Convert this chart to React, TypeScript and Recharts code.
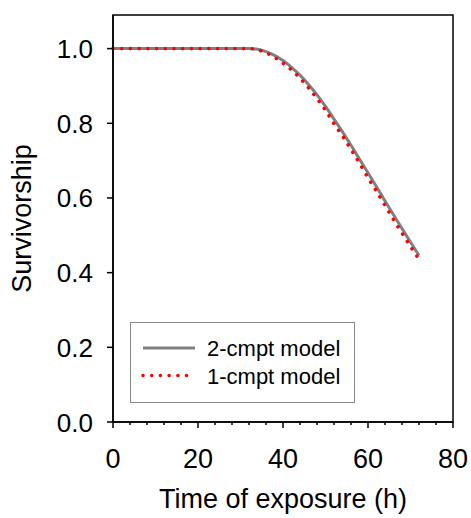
import React from 'react';
import { LineChart, Line, XAxis, YAxis, ReferenceArea, Legend } from 'recharts';

const hours = [0, 10, 20, 30, 32, 34, 36, 38, 40, 42, 44, 46, 48, 50, 52, 54, 56, 58, 60, 62, 64, 66, 68, 70, 72];
const twoCmpt = [1, 1, 1, 1, 1, 0.998, 0.992, 0.982, 0.968, 0.95, 0.929, 0.904, 0.876, 0.845, 0.811, 0.777, 0.741, 0.704, 0.667, 0.63, 0.592, 0.555, 0.518, 0.482, 0.446];
const oneCmpt = [1, 1, 1, 1, 1, 0.997, 0.989, 0.977, 0.961, 0.943, 0.921, 0.895, 0.866, 0.835, 0.799, 0.766, 0.73, 0.693, 0.654, 0.618, 0.58, 0.542, 0.506, 0.47, 0.436];
const xTicks = [0, 4, 8, 12, 16, 20, 24, 28, 32, 36, 40, 44, 48, 52, 56, 60, 64, 68, 72, 76, 80];
const yTicks = [0, 0.2, 0.4, 0.6, 0.8, 1.0];
const seriesNames = ['2-cmpt model', '1-cmpt model'];
const seriesKeys = ['two', 'one'];

const data = hours.map((h, i) => ({ h, two: twoCmpt[i], one: oneCmpt[i] }));

const FONT = '"Liberation Sans", Arial, Helvetica, sans-serif';
const DOTS = '0.01 8.7';

const XTick = (props: any) => {
  const { x, y, payload } = props;
  const major = payload.value % 20 === 0;
  return (
    <g>
      <line x1={x} x2={x} y1={y} y2={y + (major ? 6 : 3)} stroke="#000" strokeWidth={1.5} />
      {major && (
        <text x={x} y={y + 46} textAnchor="middle" fontSize={27} fontFamily={FONT} fill="#000">
          {payload.value}
        </text>
      )}
    </g>
  );
};

const YTick = (props: any) => {
  const { x, y, payload } = props;
  return (
    <g>
      <line x1={x} x2={x - 6} y1={y} y2={y} stroke="#000" strokeWidth={1.5} />
      <text x={x - 20} y={y + 9.5} textAnchor="end" fontSize={26} fontFamily={FONT} fill="#000">
        {payload.value.toFixed(1)}
      </text>
    </g>
  );
};

const LegendBox = (props: any) => {
  const payload = props.payload || [];
  const ordered = seriesKeys
    .map((k) => payload.find((p: any) => p.dataKey === k))
    .filter(Boolean);
  return (
    <svg width={225} height={81} style={{ display: 'block' }}>
      <rect x={0.5} y={0.5} width={224} height={80} fill="#fff" stroke="#8a8a8a" strokeWidth={1} />
      {ordered.map((p: any, i: number) => {
        const cy = 26 + i * 27.5;
        const dotted = p.dataKey === 'one';
        return (
          <g key={p.dataKey}>
            <line
              x1={13}
              x2={65}
              y1={cy}
              y2={cy}
              stroke={p.color}
              strokeWidth={dotted ? 3.6 : 3}
              strokeDasharray={dotted ? DOTS : undefined}
              strokeLinecap={dotted ? 'round' : 'butt'}
            />
            <text x={77} y={cy + 8} fontSize={22} fontFamily={FONT} fill="#000">
              {p.value}
            </text>
          </g>
        );
      })}
    </svg>
  );
};

export default function App() {
  return (
    <div style={{ position: 'absolute', left: 0, top: 0 }}>
      <LineChart width={471} height={518} data={data} margin={{ top: 15, right: 18, bottom: 0, left: 0 }}>
        <ReferenceArea x1={0} x2={80} y1={0} y2={1.09} fill="none" stroke="#000" strokeWidth={1.5} ifOverflow="visible" />
        <XAxis
          dataKey="h"
          type="number"
          domain={[0, 80]}
          ticks={xTicks}
          interval={0}
          height={96}
          tickSize={0}
          tickMargin={0}
          tickLine={false}
          tick={<XTick />}
          axisLine={{ stroke: '#000', strokeWidth: 1.5 }}
          label={{
            content: (p: any) => {
              const vb = p.viewBox;
              return (
                <text x={vb.x + vb.width / 2} y={vb.y + 86} textAnchor="middle" fontSize={27} fontFamily={FONT} fill="#000">
                  Time of exposure (h)
                </text>
              );
            },
          }}
        />
        <YAxis
          type="number"
          domain={[0, 1.09]}
          ticks={yTicks}
          interval={0}
          width={113}
          tickSize={0}
          tickMargin={0}
          tickLine={false}
          tick={<YTick />}
          axisLine={{ stroke: '#000', strokeWidth: 1.5 }}
          label={{
            content: (p: any) => {
              const vb = p.viewBox;
              const cx = vb.x + 22;
              const cy = vb.y + vb.height / 2;
              return (
                <text
                  x={cx}
                  y={cy}
                  transform={`rotate(-90 ${cx} ${cy})`}
                  textAnchor="middle"
                  dominantBaseline="central"
                  fontSize={27}
                  fontFamily={FONT}
                  fill="#000"
                >
                  Survivorship
                </text>
              );
            },
          }}
        />
        <Line
          type="monotone"
          dataKey="two"
          name={seriesNames[0]}
          stroke="#808080"
          strokeWidth={3}
          dot={false}
          activeDot={false}
          isAnimationActive={false}
        />
        <Line
          type="monotone"
          dataKey="one"
          name={seriesNames[1]}
          stroke="#ff0000"
          strokeWidth={3.6}
          strokeDasharray={DOTS}
          strokeLinecap="round"
          dot={false}
          activeDot={false}
          isAnimationActive={false}
        />
        <Legend
          layout="horizontal"
          align="center"
          verticalAlign="middle"
          content={<LegendBox />}
          wrapperStyle={{ left: 130, top: 322, width: 225, height: 81 }}
        />
      </LineChart>
    </div>
  );
}
